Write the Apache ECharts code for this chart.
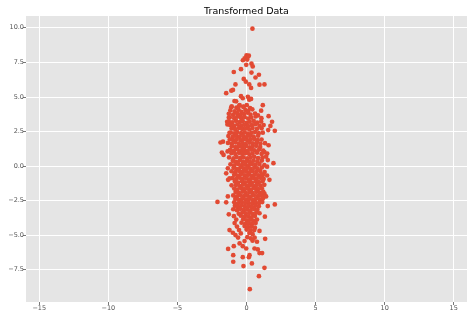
<!DOCTYPE html>
<html>
<head>
<meta charset="utf-8">
<script src="https://cdn.jsdelivr.net/npm/echarts@6/dist/echarts.min.js"></script>
<style>
html,body{margin:0;padding:0;background:#fff;}
#chart{width:474px;height:318px;}
</style>
</head>
<body>
<div id="chart"></div>
<script>
// ---- Data ----
const titleText = "Transformed Data";
const xTicks = [-15, -10, -5, 0, 5, 10, 15];
const yTicks = [-7.5, -5, -2.5, 0, 2.5, 5, 7.5, 10];

// outlying / edge points
const xOuter = [0.43,0.0,0.17,0.1,-0.14,0.05,-0.26,-0.02,0.36,0.45,-0.92,-0.4,0.36,0.9,0.65,-0.2,-0.05,0.2,0.33,0.94,1.3,-0.8,
  -1.47,-1.1,-0.98,-0.4,-0.27,0.1,0.2,0.33,-0.87,-0.75,-0.5,-0.2,1.18,-1.1,1.06,
  1.6,1.85,1.73,1.57,2.05,-1.28,-1.4,-1.38,-1.23,-1.7,-1.88,-1.78,-1.66,-1.37,
  1.6,1.3,1.5,1.42,1.54,1.95,1.49,-1.35,-1.47,-1.23,-1.33,-1.08,1.66,1.18,1.3,1.42,
  -2.1,-1.47,-1.35,1.54,2.05,-1.28,1.33,-1.23,-0.99,-0.8,0.94,1.35,
  -0.5,-0.27,-0.02,-0.92,-1.33,-0.96,0.58,0.82,0.94,1.13,0.22,
  -0.27,0.17,-0.96,0.39,-0.22,1.3,0.9,0.24];
const yOuter = [9.93,8.0,7.98,7.9,7.78,7.7,7.65,7.32,7.4,7.2,6.8,7.0,6.76,6.6,6.4,6.3,6.1,5.9,5.65,5.88,5.9,5.9,
  5.27,5.45,5.5,5.05,4.9,5.0,4.8,4.85,4.7,4.68,4.4,4.3,4.4,4.25,4.0,
  3.6,3.2,2.9,2.6,2.54,3.5,3.2,3.0,2.4,1.76,1.7,0.97,0.8,1.05,
  1.5,1.0,0.9,0.67,0.43,0.2,-0.05,-0.17,-0.53,-0.9,-1.0,-1.4,-1.0,-0.65,-2.0,-2.2,
  -2.6,-2.63,-2.2,-2.9,-2.78,-3.5,-3.67,-4.64,-4.83,-5.0,-4.7,-5.27,
  -5.6,-5.8,-5.97,-5.8,-6.0,-6.45,-5.97,-6.04,-6.3,-6.3,-6.45,
  -6.6,-6.6,-6.93,-7.05,-7.24,-7.37,-7.97,-8.91];

// dense core points, row by row
const xCore = [
  -1.07,-0.73,-0.52,-0.23,0.02,0.26,
  -1.17,-0.86,-0.58,-0.37,-0.08,0.13,0.42,
  -1.28,-0.97,-0.68,-0.46,-0.19,0.07,0.29,0.62,0.83,
  -1.21,-0.89,-0.67,-0.39,-0.13,0.12,0.33,0.66,1.08,
  -1.28,-1.03,-0.76,-0.49,-0.27,0.02,0.23,0.52,0.78,1.06,
  -1.19,-0.91,-0.66,-0.38,-0.16,0.11,0.37,0.63,0.94,1.24,
  -1.08,-0.82,-0.54,-0.31,-0.04,0.21,0.44,0.76,1.09,
  -1.14,-0.89,-0.67,-0.39,-0.13,0.09,0.36,0.61,0.89,1.18,
  -1.31,-0.99,-0.74,-0.51,-0.24,0.01,0.26,0.51,0.84,
  -1.21,-0.96,-0.71,-0.44,-0.21,0.06,0.29,0.56,0.81,1.09,
  -1.34,-1.06,-0.79,-0.56,-0.29,-0.06,0.21,0.46,0.74,1.01,1.34,
  -1.06,-0.79,-0.54,-0.31,-0.04,0.21,0.44,0.71,0.99,
  -1.19,-0.91,-0.66,-0.39,-0.16,0.09,0.36,0.59,0.91,1.21,
  -1.09,-0.81,-0.54,-0.31,-0.06,0.21,0.44,0.76,1.09,
  -1.26,-0.94,-0.71,-0.44,-0.21,0.06,0.29,0.56,0.84,1.16,
  -0.99,-0.76,-0.49,-0.26,0.01,0.24,0.51,0.79,1.11,
  -1.16,-0.89,-0.61,-0.34,-0.09,0.16,0.39,0.66,0.94,1.29,
  -0.94,-0.71,-0.44,-0.19,0.04,0.29,0.56,0.79,1.11,
  -1.09,-0.81,-0.54,-0.31,-0.04,0.21,0.44,0.71,0.99,1.31,
  -0.89,-0.64,-0.41,-0.14,0.11,0.36,0.59,0.86,1.09,1.49,
  -1.01,-0.74,-0.49,-0.26,0.01,0.26,0.51,0.74,1.01,1.24,
  -0.84,-0.61,-0.34,-0.11,0.16,0.39,0.66,0.89,1.16,
  -0.76,-0.49,-0.26,0.01,0.24,0.51,0.74,1.01,1.29,
  -0.89,-0.66,-0.39,-0.16,0.11,0.34,0.61,0.84,1.11,
  -0.79,-0.56,-0.29,-0.06,0.21,0.44,0.71,0.94,1.21,
  -0.96,-0.69,-0.46,-0.19,0.06,0.31,0.54,0.81,1.04,1.31,
  -0.81,-0.54,-0.31,-0.04,0.19,0.46,0.69,0.96,1.19,
  -0.89,-0.61,-0.34,-0.09,0.14,0.41,0.64,0.91,1.14,
  -0.84,-0.61,-0.34,-0.11,0.16,0.39,0.66,0.89,
  -0.96,-0.69,-0.46,-0.19,0.06,0.29,0.56,0.79,
  -0.56,-0.29,-0.06,0.21,0.44,0.71,0.94,
  -0.91,-0.41,-0.14,0.11,0.34,0.61,
  -0.74,-0.24,0.01,0.26,0.49,0.76,
  -0.86,-0.36,-0.09,0.16,0.39,0.66,
  -0.69,-0.14,0.11,0.34,0.61,
  -0.54,0.01,0.29,0.56,
  -0.41,0.21,0.44,
  -0.61,0.06,0.31,0.59,
  -0.14,0.44,0.76];
const yCore = [
  4.31,4.22,4.36,4.27,4.4,4.19,
  4.02,3.95,4.08,3.92,4.05,3.98,4.1,
  3.78,3.7,3.82,3.68,3.76,3.85,3.71,3.79,3.66,
  3.52,3.45,3.56,3.48,3.54,3.43,3.5,3.58,3.46,
  3.22,3.15,3.27,3.18,3.24,3.12,3.2,3.26,3.14,3.21,
  2.97,2.9,3.0,2.93,2.98,2.88,2.95,3.02,2.91,2.96,
  2.72,2.66,2.75,2.68,2.71,2.64,2.74,2.69,2.73,
  2.42,2.36,2.45,2.38,2.43,2.35,2.4,2.46,2.37,2.41,
  2.17,2.1,2.2,2.12,2.16,2.09,2.18,2.13,2.19,
  1.92,1.86,1.95,1.88,1.93,1.85,1.9,1.96,1.87,1.91,
  1.67,1.6,1.7,1.62,1.66,1.58,1.68,1.63,1.69,1.61,1.65,
  1.42,1.36,1.45,1.38,1.43,1.35,1.4,1.46,1.37,
  1.17,1.1,1.2,1.12,1.16,1.09,1.18,1.13,1.19,1.11,
  0.92,0.86,0.95,0.88,0.93,0.85,0.9,0.96,0.87,
  0.62,0.56,0.65,0.58,0.63,0.55,0.6,0.66,0.57,0.61,
  0.37,0.3,0.4,0.32,0.36,0.29,0.38,0.33,0.39,
  0.12,0.05,0.15,0.07,0.11,0.04,0.13,0.08,0.14,0.06,
  -0.13,-0.2,-0.1,-0.18,-0.14,-0.21,-0.12,-0.17,-0.11,
  -0.38,-0.45,-0.35,-0.43,-0.39,-0.46,-0.37,-0.42,-0.36,-0.44,
  -0.63,-0.7,-0.6,-0.68,-0.64,-0.71,-0.62,-0.67,-0.61,-0.69,
  -0.88,-0.95,-0.85,-0.93,-0.89,-0.96,-0.87,-0.92,-0.86,-0.94,
  -1.13,-1.2,-1.1,-1.18,-1.14,-1.21,-1.12,-1.17,-1.11,
  -1.38,-1.45,-1.35,-1.43,-1.39,-1.46,-1.37,-1.42,-1.36,
  -1.63,-1.7,-1.6,-1.68,-1.64,-1.71,-1.62,-1.67,-1.61,
  -1.88,-1.95,-1.85,-1.93,-1.89,-1.96,-1.87,-1.92,-1.86,
  -2.13,-2.2,-2.1,-2.18,-2.14,-2.21,-2.12,-2.17,-2.11,-2.19,
  -2.38,-2.45,-2.35,-2.43,-2.39,-2.46,-2.37,-2.42,-2.36,
  -2.63,-2.7,-2.6,-2.68,-2.64,-2.71,-2.62,-2.67,-2.61,
  -2.88,-2.95,-2.85,-2.93,-2.89,-2.96,-2.87,-2.92,
  -3.13,-3.2,-3.1,-3.18,-3.14,-3.21,-3.12,-3.17,
  -3.45,-3.35,-3.43,-3.39,-3.46,-3.37,-3.42,
  -3.63,-3.6,-3.68,-3.64,-3.71,-3.62,
  -3.88,-3.85,-3.93,-3.89,-3.96,-3.87,
  -4.13,-4.1,-4.18,-4.14,-4.21,-4.12,
  -4.38,-4.35,-4.43,-4.39,-4.46,
  -4.63,-4.6,-4.68,-4.64,
  -4.88,-4.85,-4.93,
  -5.18,-5.15,-5.23,-5.19,
  -5.43,-5.4,-5.48];

// ---- Chart ----
const xs = xOuter.concat(xCore);
const ys = yOuter.concat(yCore);
const n = Math.min(xs.length, ys.length);
const seriesData = [];
for (let i = 0; i < n; i++) seriesData.push([xs[i], ys[i]]);

const minus = s => String(s).replace('-', '\u2212');
const chart = echarts.init(document.getElementById('chart'), null, {renderer: 'canvas'});
const tickColor = '#555555';
chart.setOption({
  animation: false,
  backgroundColor: '#ffffff',
  title: {
    text: titleText, left: 241.5, top: 2, textAlign: 'center',
    textStyle: {fontFamily: 'DejaVu Sans', fontSize: 9.5, fontWeight: 'normal', color: '#000'}
  },
  grid: {left: 26, right: 7, top: 16, bottom: 16, show: true, backgroundColor: '#E5E5E5', borderWidth: 0},
  xAxis: {
    type: 'value', min: -15.96, max: 15.96, position: 'bottom',
    axisLine: {show: false, onZero: false},
    axisTick: {show: true, length: 3, lineStyle: {color: tickColor, width: 0.8}, customValues: xTicks},
    axisLabel: {customValues: xTicks, formatter: v => minus(v), color: tickColor, fontSize: 6.5, fontFamily: 'DejaVu Sans', margin: 3},
    splitLine: {show: true, lineStyle: {color: '#ffffff', width: 1}}
  },
  yAxis: {
    type: 'value', min: -9.84, max: 10.85, position: 'left',
    axisLine: {show: false, onZero: false},
    axisTick: {show: true, length: 3, lineStyle: {color: tickColor, width: 0.8}, customValues: yTicks},
    axisLabel: {customValues: yTicks, formatter: v => minus(v.toFixed(1)), color: tickColor, fontSize: 6.5, fontFamily: 'DejaVu Sans', margin: 2},
    splitLine: {show: true, lineStyle: {color: '#ffffff', width: 1}}
  },
  series: [{
    type: 'scatter', data: seriesData, symbolSize: 4.7,
    itemStyle: {color: '#E24A33', opacity: 1}
  }]
});
</script>
</body>
</html>
